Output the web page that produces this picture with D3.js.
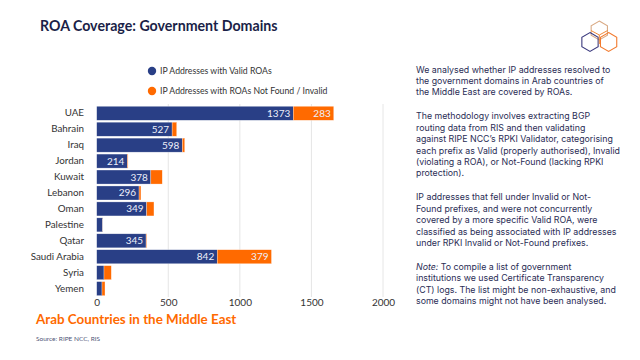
<!DOCTYPE html>
<html>
<head>
<meta charset="utf-8">
<script src="https://cdn.jsdelivr.net/npm/d3@7"></script>
<style>
  html, body { margin: 0; padding: 0; background: #fff; }
  svg { display: block; font-family: Lato, "Open Sans", sans-serif; }
</style>
</head>
<body>
<svg id="chart" width="640" height="360"></svg>
<script>
const categories = ["UAE","Bahrain","Iraq","Jordan","Kuwait","Lebanon","Oman","Palestine","Qatar","Saudi Arabia","Syria","Yemen"];
const validROAs = [1373, 527, 598, 214, 378, 296, 349, 42, 345, 842, 51, 37];
const invalidROAs = [283, 32, 17, 5, 80, 13, 51, 1, 4, 379, 51, 21];
const seriesNames = ["IP Addresses with Valid ROAs", "IP Addresses with ROAs Not Found / Invalid"];
const xTicks = [0, 500, 1000, 1500, 2000];
const titleText = "ROA Coverage: Government Domains";
const subtitleText = "Arab Countries in the Middle East";
const sourceText = "Source: RIPE NCC, RIS";
const paragraphs = [
  ["We analysed whether IP addresses resolved to", "the government domains in Arab countries of", "the Middle East are covered by ROAs."],
  ["The methodology involves extracting BGP", "routing data from RIS and then validating", "against RIPE NCC\u2019s RPKI Validator, categorising", "each prefix as Valid (properly authorised), Invalid", "(violating a ROA), or Not-Found (lacking RPKI", "protection)."],
  ["IP addresses that fell under Invalid or Not-", "Found prefixes, and were not concurrently", "covered by a more specific Valid ROA, were", "classified as being associated with IP addresses", "under RPKI Invalid or Not-Found prefixes."],
  ["Note: To compile a list of government", "institutions we used Certificate Transparency", "(CT) logs. The list might be non-exhaustive, and", "some domains might not have been analysed."]
];

const NAVY = "#293f86", ORANGE = "#ff6a00", TEXT = "#2a2d55";
const svg = d3.select("#chart");

const rows = categories.map((c, i) => ({ cat: c, valid: validROAs[i], invalid: invalidROAs[i] }));
const stack = d3.stack().keys(["valid", "invalid"])(rows);

const x = d3.scaleLinear().domain([0, 2000]).range([96.7, 383]);
const y = d3.scaleBand().domain(categories).range([105.3, 296.6]).paddingInner(0.12).paddingOuter(0.06);

// gridlines
svg.append("g").selectAll("line").data(xTicks.filter(t => t > 0)).join("line")
  .attr("x1", d => x(d)).attr("x2", d => x(d))
  .attr("y1", 104).attr("y2", 297)
  .attr("stroke", "#e6e6e6").attr("stroke-width", 1);

// bars
const colors = [NAVY, ORANGE];
stack.forEach((layer, li) => {
  svg.append("g").selectAll("rect").data(layer).join("rect")
    .attr("x", d => x(d[0]))
    .attr("y", d => y(d.data.cat))
    .attr("width", d => Math.max(0, x(d[1]) - x(d[0])))
    .attr("height", y.bandwidth())
    .attr("fill", colors[li])
    .attr("stroke", "#fff").attr("stroke-width", 0.5).attr("stroke-opacity", 0.6);
  svg.append("g").selectAll("text").data(layer.filter(d => d[1] - d[0] >= 150)).join("text")
    .attr("x", d => x(d[1]) - 3)
    .attr("y", d => y(d.data.cat) + y.bandwidth() / 2)
    .attr("dy", "0.35em")
    .attr("text-anchor", "end")
    .attr("font-size", 10)
    .attr("fill", "#eef0fa")
    .text(d => d[1] - d[0]);
});

// y axis labels
const yAxis = d3.axisLeft(y).tickSize(0).tickPadding(0);
const yg = svg.append("g").attr("transform", "translate(84,0)").call(yAxis);
yg.select(".domain").remove();
yg.selectAll("text").attr("font-size", 9.8).attr("fill", "#333").attr("font-family", "Lato, sans-serif");

// x axis labels
const xAxis = d3.axisBottom(x).tickValues(xTicks).tickFormat(d3.format("d")).tickSize(0).tickPadding(0);
const xg = svg.append("g").attr("transform", "translate(0,298.5)").call(xAxis);
xg.select(".domain").remove();
xg.selectAll("text").attr("font-size", 10).attr("fill", "#333").attr("font-family", "Lato, sans-serif");

// legend
const legend = svg.append("g");
seriesNames.forEach((name, i) => {
  legend.append("circle").attr("cx", 152).attr("cy", 71 + i * 20).attr("r", 4.2).attr("fill", colors[i]);
  legend.append("text").attr("x", 160).attr("y", 71 + i * 20).attr("dy", "0.35em")
    .attr("font-size", 8.7).attr("fill", "#333").text(name);
});

// title etc
svg.append("text").attr("x", 40).attr("y", 31).attr("font-size", 14.2).attr("font-weight", 700)
  .attr("fill", "#1b1f48").text(titleText);
svg.append("text").attr("x", 36).attr("y", 324).attr("font-size", 13.4).attr("font-weight", 700)
  .attr("fill", ORANGE).text(subtitleText);
svg.append("text").attr("x", 36).attr("y", 341).attr("font-size", 6.5)
  .attr("fill", "#505578").text(sourceText);

// right-side text
const tg = svg.append("g").attr("font-family", "Inter, 'Open Sans', sans-serif");
let yy = 72.5;
paragraphs.forEach((para, pi) => {
  para.forEach((line, li) => {
    const t = tg.append("text").attr("x", 416).attr("y", yy).attr("font-size", 8.8).attr("fill", TEXT);
    if (pi === 3 && li === 0) {
      t.append("tspan").attr("font-style", "italic").text("Note:");
      t.append("tspan").text(line.slice(5));
    } else t.text(line);
    yy += 11.4;
  });
  yy += 12.6;
});

// logo: three hexagons
const hex = (cx, cy, r) => d3.range(6).map(k => {
  const a = Math.PI / 3 * k - Math.PI / 2;
  return [cx + r * Math.cos(a), cy + r * Math.sin(a)];
});
const logo = svg.append("g").attr("fill", "none").attr("stroke-width", 1.1);
const hexes = [
  { c: [599.3, 30.5], col: "#d9aa85" },
  { c: [590, 42], col: "#3b3a7e" },
  { c: [608.6, 42], col: "#f27a2e" }
];
hexes.forEach(h => {
  logo.append("path").attr("d", "M" + hex(h.c[0], h.c[1], 9.4).join("L") + "Z").attr("stroke", h.col);
});
// inner cube lines
logo.append("path").attr("d", "M599.3,35 L599.3,44 M599.3,35 L591,30.5 M599.3,35 L607.6,30.5")
  .attr("stroke", "#f08a3a").attr("stroke-width", 1);
</script>
</body>
</html>
